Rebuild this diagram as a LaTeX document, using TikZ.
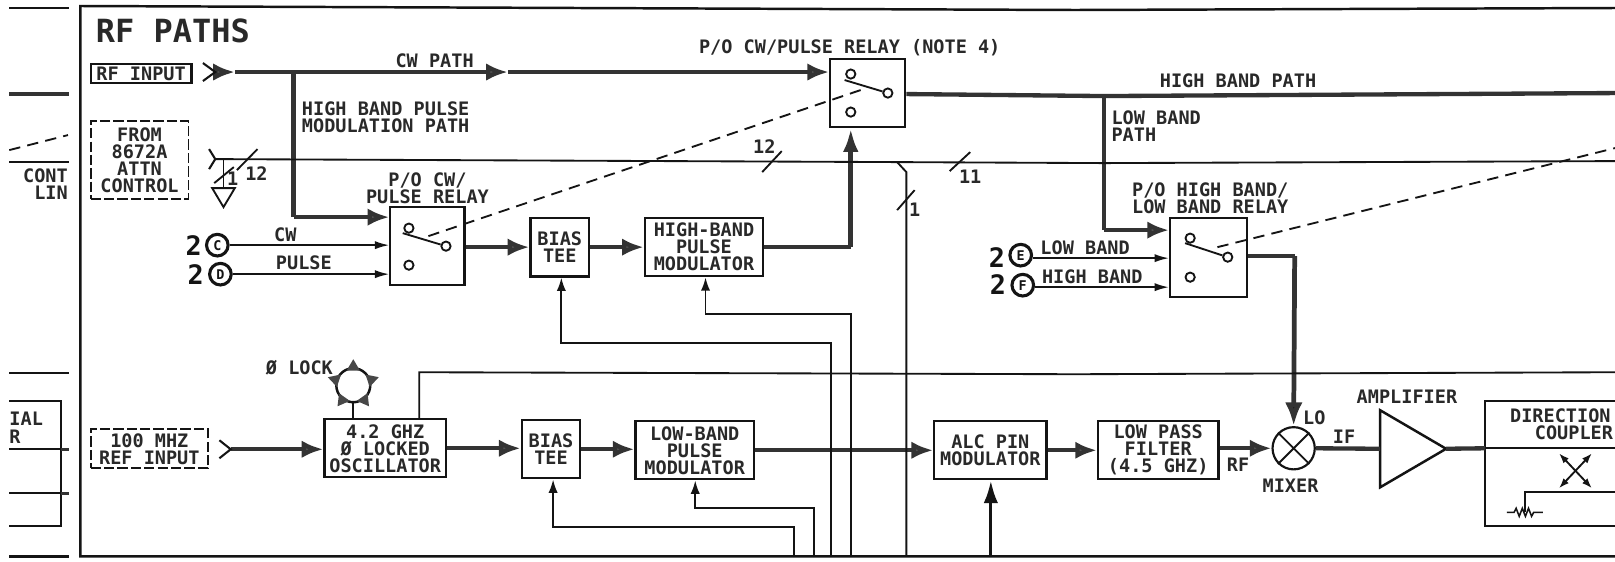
\documentclass[tikz,border=0pt]{standalone}
\usepackage{fontspec}
\setmainfont{DejaVu Sans Mono}
\usetikzlibrary{arrows.meta,calc}
\newcommand{\lblfont}{\fontsize{18}{16.5}\selectfont\bfseries}
\definecolor{thkc}{gray}{0.2}
\definecolor{headc}{gray}{0.32}
\definecolor{ink}{gray}{0.08}
\definecolor{txt}{gray}{0.16}
\tikzset{
  thn/.style={line width=1.8pt,draw=ink},
  thk/.style={line width=4.2pt,draw=thkc},
  mhd/.style={-{Latex[length=21pt,width=17pt,fill=headc]}},
  shd/.style={-{Latex[length=14pt,width=8pt,fill=ink]}},
  uhd/.style={-{Latex[length=13pt,width=9pt,fill=ink]}},
  bhd/.style={-{Latex[length=22pt,width=14pt,fill=ink]}},
  blk/.style={draw=ink,line width=2.1pt,fill=white,inner sep=0pt,align=center,font=\lblfont,text=txt},
  dbox/.style={draw=ink,line width=1.8pt,dash pattern=on 10pt off 3pt,inner sep=0pt,align=center,font=\lblfont,text=txt},
  lbl/.style={inner sep=0pt,font=\lblfont,text=txt,align=center},
  contact/.style={circle,draw=ink,line width=1.8pt,fill=white,minimum size=9pt,inner sep=0pt},
  dsh/.style={line width=1.8pt,draw=ink,dash pattern=on 11pt off 7pt},
  port/.style={circle,draw=ink,line width=3pt,fill=white,minimum size=21pt,inner sep=0pt,font=\fontsize{13}{13}\selectfont\bfseries,text=ink},
  two/.style={inner sep=0pt,font=\fontsize{26}{26}\selectfont\bfseries,text=ink},
  dblarr/.style={line width=1.8pt,draw=ink,{Latex[length=10pt,width=7pt]}-{Latex[length=10pt,width=7pt]}},
}
\begin{document}
\begin{tikzpicture}[x=1pt,y=-0.9715pt]
\useasboundingbox (0,0) rectangle (1568,561);
\fill[white] (0,0) rectangle (1568,561);

% frame
\draw[line width=2.4pt,draw=ink] (1568,8) -- (1044,10) -- (78,6) -- (78,556) -- (1568,556);

% left edge fragments
\draw[line width=2.4pt,draw=ink] (9,8) -- (67,8);
\draw[line width=4pt,draw=thkc] (9,94) -- (67,94);
\draw[dsh] (9,150) -- (66,135);
\draw[thn] (9,162) -- (67,162);
\draw[thn] (9,373) -- (67,373);
\draw[thn] (9,401) -- (59,401) -- (59,526) -- (9,526);
\draw[thn] (9,449) -- (59,449);
\draw[thn] (9,493) -- (59,493);
\draw[line width=3.4pt,draw=thkc] (59,449) -- (67,449);
\draw[line width=3.4pt,draw=thkc] (59,493) -- (67,493);
\draw[line width=2.4pt,draw=ink] (9,556) -- (67,556);
\node[lbl,anchor=east] (lcont) at (66,176) {CONT};
\node[lbl,anchor=east] (llin) at (66,193) {LIN};
\node[lbl,anchor=west] (lial) at (9,418) {IAL};
\node[lbl,anchor=west] (lr) at (9,436) {R};

% title and input boxes
\node[inner sep=0pt,anchor=west,font=\fontsize{31}{31}\selectfont\bfseries,text=txt] (title) at (93,31) {RF PATHS};
\node[blk,minimum width=98pt,minimum height=19pt] (rfbox) at (137,73.5) {RF INPUT};
\node[dbox,minimum width=95pt,minimum height=76pt] (frombox) at (135.5,160) {FROM\\8672A\\ATTN\\CONTROL};
\node[dbox,minimum width=114pt,minimum height=38pt] (refbox) at (145,448.5) {100 MHZ\\REF INPUT};

% named points
\coordinate (rfin) at (209,72);
\coordinate (cwa) at (228,72);
\coordinate (cwb) at (493,72);
\coordinate (jcw) at (285,72);
\coordinate (ctl) at (209,159);
\coordinate (jhb) at (285,217);
\coordinate (refin) at (224,449);
\coordinate (gndt) at (217,159);
\coordinate (j1) at (871,162);
\coordinate (j2) at (880,172);
\coordinate (jout) at (1072,96);
\coordinate (jlb) at (1072,230);
\coordinate (hbend) at (1568,93);
\coordinate (ctlend) at (1568,161);
\coordinate (hmcor) at (826,247);
\coordinate (lrcor) at (1257,256);

% relays and blocks
\node[blk,minimum width=73pt,minimum height=66pt] (rela) at (842.5,93) {};
\node[blk,minimum width=72pt,minimum height=75.7pt] (relb) at (415,246) {};
\node[blk,minimum width=75pt,minimum height=76.7pt] (relc) at (1173.5,257.5) {};
\node[blk,minimum width=57pt,minimum height=57pt] (bt1) at (543.5,247) {BIAS\\TEE};
\node[blk,minimum width=115pt,minimum height=56.5pt] (hpm) at (683.5,247) {HIGH-BAND\\PULSE\\MODULATOR};
\node[blk,minimum width=118pt,minimum height=56.5pt] (osc) at (374,448) {4.2 GHZ\\Ø LOCKED\\OSCILLATOR};
\node[blk,minimum width=57pt,minimum height=56.5pt] (bt2) at (535,449) {BIAS\\TEE};
\node[blk,minimum width=115pt,minimum height=56.5pt] (lpm) at (674.5,450) {LOW-BAND\\PULSE\\MODULATOR};
\node[blk,minimum width=109pt,minimum height=56.5pt] (alc) at (961.5,450) {ALC PIN\\MODULATOR};
\node[blk,minimum width=117pt,minimum height=56.5pt] (lpf) at (1124.5,450) {LOW PASS\\FILTER\\(4.5 GHZ)};
\node[circle,draw=ink,line width=2.1pt,fill=white,minimum size=41pt,inner sep=0pt] (mix) at (1256,448) {};
\draw[line width=1.8pt,draw=ink] (mix.45) -- (mix.225) (mix.135) -- (mix.315);

% amplifier
\coordinate (ampl) at (1340,448.5);
\coordinate (ampt) at (1404,448.5);
\draw[line width=2.4pt,draw=ink,fill=white] (1340,410) -- (ampt) -- (1340,487) -- cycle;

% coupler
\coordinate (cpl) at (1442,448);
\coordinate (cpr) at (1568,448);
\draw[line width=2.1pt,draw=ink] (1568,401) -- (1442,401) -- (1442,526) -- (1568,526);
\draw[thn] (cpl) -- (cpr);
\node[lbl,anchor=west] (ldir) at (1466,415) {DIRECTION};
\node[lbl,anchor=west] (lcou) at (1490,432) {COUPLER};
\draw[dblarr] (1513.6,453) -- (1545.6,488);
\draw[dblarr] (1545.6,453) -- (1513.6,488);
\draw[thn] (1568,492) -- (1480.6,492) -- (1480.6,512);
\draw[line width=1.5pt,draw=ink] (1463,512) -- (1470,512) -- (1472,508) -- (1475,516) -- (1478,508) -- (1481,516) -- (1484,508) -- (1487,516) -- (1489,512) -- (1498,512);

% thick RF paths
\draw[thk,mhd] (rfin) -- (cwa);
\draw[thk,mhd] (cwa) -- (cwb);
\draw[thk,mhd] (cwb) -- (rela.west |- cwb);
\draw[thk] (jcw) -- (jhb);
\draw[thk,mhd] (jhb) -- (relb.west |- jhb);
\draw[thk,mhd] (relb.east |- bt1.west) -- (bt1.west);
\draw[thk,mhd] (bt1.east) -- (hpm.west);
\draw[thk] (hpm.east) -- (hmcor);
\draw[line width=4.6pt,draw=thkc,-{Latex[length=23pt,width=15pt,fill=ink]}] (hmcor) -- (rela.south -| hmcor);
\draw[thk] (rela.east |- 0,94) -- (jout) -- (hbend);
\draw[thk] (jout) -- (jlb);
\draw[thk,mhd] (jlb) -- (relc.west |- jlb);
\draw[thk] (relc.east |- lrcor) -- (lrcor);
\draw[line width=4.6pt,draw=thkc,-{Latex[length=23pt,width=17pt,fill=ink]}] (lrcor) -- (mix.north);
\draw[thk,mhd] (refin) -- (osc.west |- refin);
\draw[thk,mhd] (osc.east) -- (bt2.west |- osc.east);
\draw[thk,mhd] (bt2.east) -- (lpm.west |- bt2.east);
\draw[thk,mhd] (lpm.east) -- (alc.west);
\draw[thk,mhd] (alc.east) -- (lpf.west);
\draw[thk,mhd] (lpf.east |- mix.west) -- (mix.west);
\draw[thk] (mix.east) -- (ampl);
\draw[thk] (ampt) -- (cpl);

% chevrons
\draw[line width=2pt,draw=ink] ([shift={(-12,-9)}]rfin) -- (rfin) -- ([shift={(-12,9)}]rfin);
\draw[line width=2pt,draw=ink] ([shift={(-6,-10)}]ctl) -- (ctl) -- ([shift={(-6,10)}]ctl);
\draw[line width=2pt,draw=ink] ([shift={(-11,-9)}]refin) -- (refin) -- ([shift={(-11,9)}]refin);

% control bus
\draw[thn] (ctl) -- (j1) -- (jout |- 0,163) -- (ctlend);
\draw[thn] (j1) -- (j2) -- (880,556);
\draw[thn] (230,170) -- (250,149);
\draw[thn] (gndt) -- (217,188);
\draw[thn] (208,183) -- (227,167);
\draw[line width=1.8pt,draw=ink] (206,188) -- (228,188) -- (217,207) -- cycle;
\draw[thn] (740,172) -- (759,151);
\draw[thn] (922,171) -- (942,152);
\draw[thn] (871,210) -- (888,190);

% contacts and poles
\node[contact] (ca1) at (826,74) {};
\node[contact] (ca2) at (826,112) {};
\node[contact] (ca3) at (862,93) {};
\draw[line width=1.8pt,draw=ink] (820,80) -- (ca3);
\node[contact] (cb1) at (397,228) {};
\node[contact] (cb2) at (397,265) {};
\node[contact] (cb3) at (433,246) {};
\draw[line width=1.8pt,draw=ink] (391,233) -- (cb3);
\node[contact] (cc1) at (1155.5,238) {};
\node[contact] (cc2) at (1155.5,277) {};
\node[contact] (cc3) at (1192,257) {};
\draw[line width=1.8pt,draw=ink] (1150.6,243) -- (cc3);

% mechanical links
\draw[dsh] (ca3.west |- 0,90) ++(-21,0) -- (413,237);
\draw[dsh] (1182,247) -- (1568,148);

% ports
\node[port] (pc) at (211,245) {C};
\node[port] (pd) at (214,274) {D};
\node[port] (pe) at (991,255) {E};
\node[port] (pf) at (993,285) {F};
\node[two] (n2c) at (188,245) {2};
\node[two] (n2d) at (190,274) {2};
\node[two] (n2e) at (968,257) {2};
\node[two] (n2f) at (969,284) {2};
\draw[thn,shd] (pc.east) -- (relb.west |- pc.east);
\draw[thn,shd] (pd.east) -- (relb.west |- pd.east);
\draw[thn,shd] (pe.east |- 0,258) -- (relc.west |- 0,258);
\draw[thn,shd] (pf.east |- 0,287) -- (relc.west |- 0,287);

% control lines
\draw[thn,uhd] (807,556) -- (807,343) -- (545,343) -- (bt1.south -| 545,0);
\draw[thn,uhd] (826,556) -- (826,314) -- (685,314) -- (hpm.south -| 685,0);
\draw[thn,uhd] (771,556) -- (771,527) -- (537,527) -- (bt2.south -| 537,0);
\draw[thn,uhd] (790,556) -- (790,508) -- (675,508) -- (lpm.south -| 675,0);
\draw[line width=3.2pt,draw=ink,bhd] (962,556) -- (alc.south -| 962,0);

% divider and oscillator links
\draw[thn] (osc.north -| 407,0) -- (407,372) -- (1044,374) -- (1568,372);
\node[circle,draw=ink,line width=2.4pt,fill=white,minimum size=33pt,inner sep=0pt] (lock) at (343,385) {};
\foreach \a in {270,342,54,126,198}{
  \fill[black!72] ([shift={(\a:26)}]lock.center) -- ([shift={(\a-24:16)}]lock.center) -- ([shift={(\a+24:16)}]lock.center) -- cycle;
}
\draw[thn] (lock.south) -- (osc.north -| lock.south);

% labels
\node[lbl] (lcwp) at (422,61) {CW PATH};
\node[lbl,anchor=west,align=left] (lhb) at (293,117) {HIGH BAND PULSE\\MODULATION PATH};
\node[lbl] (lrelb) at (415,188) {P/O CW/\\PULSE RELAY};
\node[lbl] (l12a) at (249,174) {12};
\node[lbl] (l1a) at (226,179) {1};
\node[lbl] (lcw) at (277,235) {CW};
\node[lbl] (lpu) at (295,263) {PULSE};
\node[lbl] (lnote) at (825,48) {P/O CW/PULSE RELAY (NOTE 4)};
\node[lbl] (l12b) at (742,147) {12};
\node[lbl] (l11) at (942,177) {11};
\node[lbl] (l1b) at (888,210) {1};
\node[lbl] (lhbp) at (1202,81) {HIGH BAND PATH};
\node[lbl,anchor=west,align=left] (llbp) at (1079,126) {LOW BAND\\PATH};
\node[lbl] (lrelc) at (1175,198) {P/O HIGH BAND/\\LOW BAND RELAY};
\node[lbl,anchor=west] (llow) at (1010,248) {LOW BAND};
\node[lbl,anchor=west] (lhigh) at (1011.5,277) {HIGH BAND};
\node[lbl,anchor=west] (llock) at (258,367) {Ø LOCK};
\node[lbl] (lrf) at (1202,464) {RF};
\node[lbl] (llo) at (1276,417) {LO};
\node[lbl] (lif) at (1305,436) {IF};
\node[lbl] (lmix) at (1253,485) {MIXER};
\node[lbl] (lamp) at (1366,396) {AMPLIFIER};
\end{tikzpicture}
\end{document}
